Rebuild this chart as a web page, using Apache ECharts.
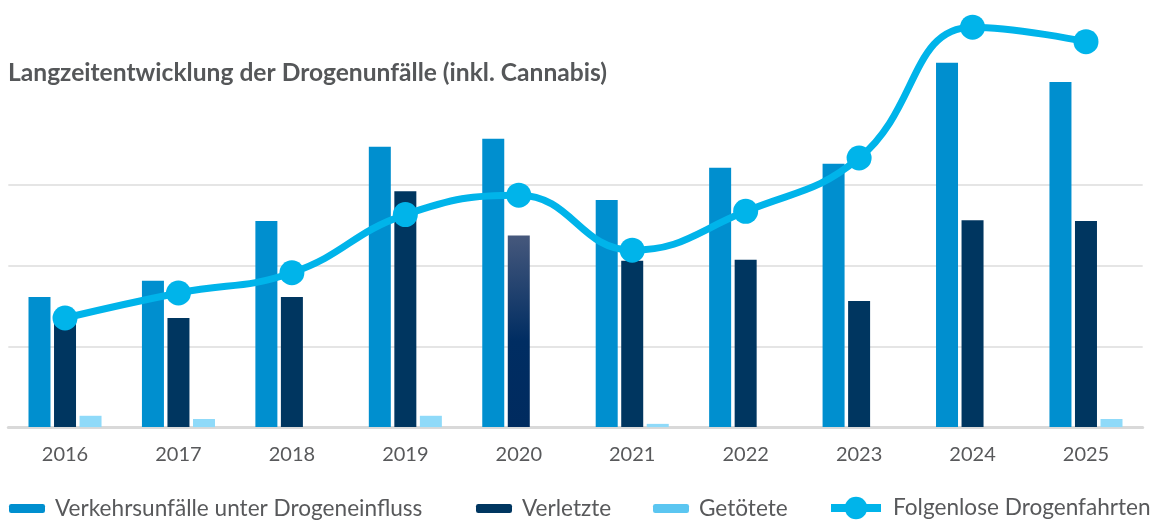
<!DOCTYPE html>
<html>
<head>
<meta charset="utf-8">
<script src="https://cdn.jsdelivr.net/npm/echarts@6/dist/echarts.min.js"></script>
<style>
html,body{margin:0;padding:0;background:#fff;}
#chart{width:1151px;height:521px;}
</style>
</head>
<body>
<div id="chart"></div>
<script>
const years = ['2016','2017','2018','2019','2020','2021','2022','2023','2024','2025'];
const unfaelle = [161,181,255,347,357,281,321,326,451,427];
const verletzte = [133,135,161,292,237,206,207,156,256,255];
const getoetete = [14,10,0,14,0,4,0,0,0,10];
const folgenlos = [135,166,191,263,287,219,267,333,495,477];
const seriesNames = ['Verkehrsunfälle unter Drogeneinfluss','Verletzte','Getötete','Folgenlose Drogenfahrten'];

const FONT = 'Lato';
const chart = echarts.init(document.getElementById('chart'));
const verlData = verletzte.map((v, i) => i === 4 ? {
  value: v,
  itemStyle: { color: new echarts.graphic.LinearGradient(0,0,0,1,[
    {offset:0,color:'#46587c'},{offset:0.55,color:'#002d62'},{offset:1,color:'#002b5f'}]) }
} : v);

const legendText = { fontFamily: FONT, fontSize: 22.6, color: '#58595b', padding: [0,0,0,5] };
function mkLegend(name, left, extra) {
  return Object.assign({
    data: [name], left: left, top: 497, padding: 0,
    itemWidth: 36, itemHeight: 9,
    textStyle: legendText
  }, extra || {});
}

chart.setOption({
  animation: false,
  title: {
    text: 'Langzeitentwicklung der Drogenunfälle (inkl. Cannabis)',
    left: 3, top: 56,
    textStyle: { fontFamily: FONT, fontSize: 24.6, fontWeight: 'bold', color: '#555759' }
  },
  legend: [
    mkLegend(seriesNames[0], 9),
    mkLegend(seriesNames[1], 476),
    mkLegend({ name: seriesNames[2], itemStyle: { color: '#5bc6f1' } }, 653),
    mkLegend({ name: seriesNames[3], lineStyle: { width: 8 } }, 827, { itemWidth: 50, itemHeight: 28, top: 496.5, textStyle: Object.assign({}, legendText, {padding:[0,0,0,7]}) })
  ],
  grid: { left: 8.3, right: 8.3, top: 184.7, bottom: 93.9, containLabel: false },
  xAxis: {
    type: 'category', data: years,
    axisLine: { lineStyle: { color: '#d9d9d9', width: 3 } },
    axisTick: { show: false },
    axisLabel: { fontFamily: FONT, fontSize: 20, color: '#58595b', margin: 17 }
  },
  yAxis: {
    type: 'value', min: 0, max: 300, interval: 100,
    axisLabel: { show: false }, axisLine: { show: false }, axisTick: { show: false },
    splitLine: { lineStyle: { color: '#dcdcdc', width: 1.5 } }
  },
  series: [
    { name: seriesNames[0], type: 'bar', data: unfaelle, barWidth: 22, barGap: '16%', clip: false, itemStyle: { color: '#008fcf' } },
    { name: seriesNames[1], type: 'bar', data: verlData, barWidth: 22, barGap: '16%', clip: false, itemStyle: { color: '#003660' } },
    { name: seriesNames[2], type: 'bar', data: getoetete, barWidth: 22, barGap: '16%', clip: false, itemStyle: { color: '#8fdaf9' } },
    { name: seriesNames[3], type: 'line', data: folgenlos, smooth: 0.45, clip: false,
      symbol: 'circle', symbolSize: 25, z: 5,
      lineStyle: { color: '#00b4ea', width: 7 }, itemStyle: { color: '#00b4ea' } }
  ]
});
</script>
</body>
</html>
